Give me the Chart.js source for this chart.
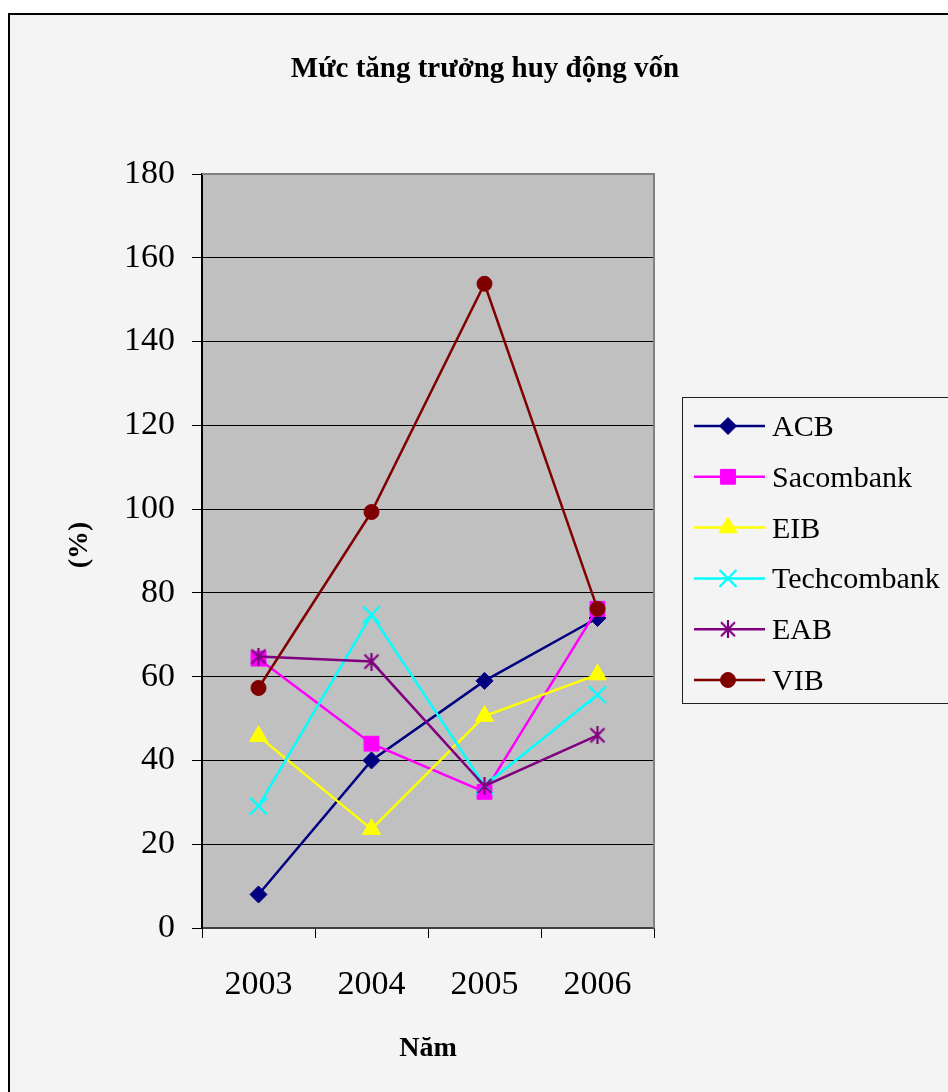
<!DOCTYPE html>
<html>
<head>
<meta charset="utf-8">
<title>Mức tăng trưởng huy động vốn</title>
<script src="https://cdn.jsdelivr.net/npm/chart.js@4.4.1/dist/chart.umd.min.js"></script>
<style>
  html, body { margin: 0; padding: 0; background: #fff; }
  canvas { display: block; }
</style>
</head>
<body>
<canvas id="lineChart" width="948" height="1092"></canvas>
<script>
// DATA (%)
var years = ["2003", "2004", "2005", "2006"];
var acb = [8, 40, 59, 74];
var sacombank = [64.3, 44, 32.5, 76.2];
var eib = [45.8, 23.6, 50.6, 60.5];
var techcombank = [29.1, 74.8, 34, 55.7];
var eab = [64.8, 63.6, 33.9, 46];
var vib = [57.3, 99.3, 153.8, 76.2];

var chartTitle = "Mức tăng trưởng huy động vốn";
var xTitle = "Năm";
var yTitle = "(%)";

Chart.defaults.font.family = "'Liberation Serif', 'Times New Roman', serif";
Chart.defaults.color = '#000';

// asterisk marker like the one Excel uses (vertical line + X)
function makeAsterisk(color) {
    var c = document.createElement('canvas');
    c.width = 18;
    c.height = 18;
    var g = c.getContext('2d');
    g.strokeStyle = color;
    g.lineWidth = 2.2;
    g.beginPath();
    g.moveTo(9, 0); g.lineTo(9, 18);
    g.moveTo(2, 2); g.lineTo(16, 16);
    g.moveTo(16, 2); g.lineTo(2, 16);
    g.stroke();
    return c;
}

function series(label, data, color, style, radius, order) {
    return {
        label: label,
        data: data,
        borderColor: color,
        backgroundColor: color,
        borderWidth: 2.5,
        tension: 0,
        pointStyle: style,
        pointRadius: radius,
        pointBackgroundColor: color,
        pointBorderColor: color,
        pointBorderWidth: (style === 'crossRot') ? 2.2 : 1,
        order: order
    };
}

// plot area / frame / texts / legend
var decor = {
    id: 'decor',
    beforeDraw: function(chart) {
        var ctx = chart.ctx;
        ctx.save();
        ctx.fillStyle = '#fff';
        ctx.fillRect(0, 0, chart.width, chart.height);
        ctx.fillStyle = '#f4f4f4';
        ctx.fillRect(10, 15, chart.width, chart.height);
        ctx.fillStyle = '#000';
        ctx.fillRect(8, 13, chart.width, 2);
        ctx.fillRect(8, 13, 2, chart.height);
        var a = chart.chartArea;
        ctx.fillStyle = '#c0c0c0';
        ctx.fillRect(a.left, a.top, a.right - a.left, a.bottom - a.top);
        ctx.restore();
    },
    beforeDatasetsDraw: function(chart) {
        var ctx = chart.ctx;
        var a = chart.chartArea;
        ctx.save();
        ctx.strokeStyle = '#808080';
        ctx.lineWidth = 2;
        ctx.beginPath();
        ctx.moveTo(a.left, a.top);
        ctx.lineTo(a.right, a.top);
        ctx.lineTo(a.right, a.bottom);
        ctx.stroke();
        ctx.restore();
    },
    afterDraw: function(chart) {
        var ctx = chart.ctx;
        var a = chart.chartArea;
        ctx.save();
        ctx.fillStyle = '#000';
        ctx.textAlign = 'center';
        ctx.textBaseline = 'alphabetic';
        ctx.font = "bold 29px 'Liberation Serif'";
        ctx.fillText(chartTitle, 485, 77);
        ctx.font = "bold 28px 'Liberation Serif'";
        ctx.fillText(xTitle, (a.left + a.right) / 2, 1056);
        ctx.translate(80, 545);
        ctx.rotate(-Math.PI / 2);
        ctx.textBaseline = 'middle';
        ctx.font = "bold 28px 'Liberation Serif'";
        ctx.fillText(yTitle, 0, 0);
        ctx.restore();

        // legend
        ctx.save();
        ctx.strokeStyle = '#202020';
        ctx.lineWidth = 1;
        ctx.strokeRect(682.5, 397.5, 320, 306);
        ctx.font = "30px 'Liberation Serif'";
        ctx.textAlign = 'left';
        ctx.textBaseline = 'alphabetic';
        chart.data.datasets.forEach(function(ds, i) {
            var y = 426 + i * 50.8;
            ctx.strokeStyle = ds.borderColor;
            ctx.lineWidth = ds.borderWidth;
            ctx.beginPath();
            ctx.moveTo(694, y);
            ctx.lineTo(765, y);
            ctx.stroke();
            ctx.fillStyle = ds.pointBackgroundColor;
            ctx.strokeStyle = ds.pointBorderColor;
            ctx.lineWidth = ds.pointBorderWidth;
            Chart.helpers.drawPoint(ctx, {
                pointStyle: ds.pointStyle,
                radius: ds.pointRadius,
                rotation: 0,
                borderWidth: ds.pointBorderWidth
            }, 728, y);
            ctx.fillStyle = '#000';
            ctx.fillText(ds.label, 772, y + 10);
        });
        ctx.restore();
    }
};

var ctx = document.getElementById('lineChart').getContext('2d');
var lineChart = new Chart(ctx, {
    type: 'line',
    data: {
        labels: years,
        datasets: [
            series("ACB", acb, '#000080', 'rectRot', 8.5, 5),
            series("Sacombank", sacombank, '#ff00ff', 'rect', 10.5, 4),
            series("EIB", eib, '#ffff00', 'triangle', 10.5, 3),
            series("Techcombank", techcombank, '#00ffff', 'crossRot', 12, 2),
            series("EAB", eab, '#800080', makeAsterisk('#800080'), 9, 1),
            series("VIB", vib, '#800000', 'circle', 7.5, 0)
        ]
    },
    options: {
        responsive: false,
        animation: false,
        devicePixelRatio: 1,
        layout: { padding: { left: 0, top: 174, right: 294, bottom: 0 } },
        plugins: {
            legend: { display: false },
            title: { display: false },
            tooltip: { enabled: false }
        },
        scales: {
            x: {
                type: 'category',
                offset: true,
                afterFit: function(scale) { scale.height = 164; },
                grid: {
                    offset: true,
                    drawOnChartArea: false,
                    tickLength: 10,
                    tickColor: '#000',
                    lineWidth: 1
                },
                border: { display: true, color: '#404040', width: 2 },
                ticks: {
                    font: { size: 34 },
                    color: '#000',
                    padding: 27,
                    maxRotation: 0
                }
            },
            y: {
                min: 0,
                max: 180,
                afterFit: function(scale) { scale.width = 202; },
                ticks: {
                    stepSize: 20,
                    font: { size: 34 },
                    color: '#000',
                    padding: 17
                },
                grid: {
                    color: function(c) {
                        return (c.tick && (c.tick.value === 0 || c.tick.value === 180)) ? 'rgba(0,0,0,0)' : '#000';
                    },
                    tickColor: '#000',
                    tickLength: 10,
                    lineWidth: 1
                },
                border: { display: true, color: '#000', width: 2 }
            }
        }
    },
    plugins: [decor]
});
</script>
</body>
</html>
